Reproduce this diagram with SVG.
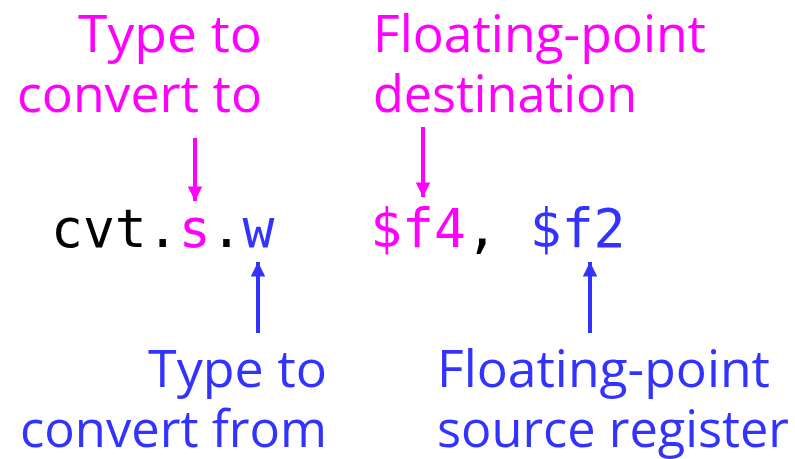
<svg xmlns="http://www.w3.org/2000/svg" width="795" height="459" viewBox="0 0 795 459">
  <style>
    .lbl { font-family: "Open Sans", "DejaVu Sans", sans-serif; font-size: 52px; }
    .code { font-family: "DejaVu Sans Mono", "Liberation Mono", monospace; font-size: 53px; }
    .mag { fill: #FF00FF; }
    .blu { fill: #3333FF; }
    .blk { fill: #000000; }
  </style>
  <defs>
    <marker id="ahM" viewBox="0 0 10 10" refX="10" refY="5" markerWidth="4" markerHeight="3.6" orient="auto" markerUnits="strokeWidth">
      <path d="M0,0 L10,5 L0,10 z" fill="#FF00FF"/>
    </marker>
    <marker id="ahB" viewBox="0 0 10 10" refX="10" refY="5" markerWidth="4" markerHeight="3.6" orient="auto" markerUnits="strokeWidth">
      <path d="M0,0 L10,5 L0,10 z" fill="#3333FF"/>
    </marker>
  </defs>
  <rect width="795" height="459" fill="#FFFFFF"/>

  <g id="instruction">
    <text class="code" x="51" y="247"><tspan class="blk">cvt.</tspan><tspan class="mag">s</tspan><tspan class="blk">.</tspan><tspan class="blu">w</tspan><tspan class="blk" xml:space="preserve">   </tspan><tspan class="mag">$f4</tspan><tspan class="blk">,</tspan><tspan class="blk" xml:space="preserve"> </tspan><tspan class="blu">$f2</tspan></text>
  </g>

  <g id="label-type-to">
    <text class="lbl mag" x="78" y="52" textLength="184" lengthAdjust="spacingAndGlyphs">Type to</text>
    <text class="lbl mag" x="17" y="112" textLength="245" lengthAdjust="spacingAndGlyphs">convert to</text>
  </g>
  <g id="label-fp-dest">
    <text class="lbl mag" x="373" y="52" textLength="333" lengthAdjust="spacingAndGlyphs">Floating-point</text>
    <text class="lbl mag" x="373" y="112" textLength="264" lengthAdjust="spacingAndGlyphs">destination</text>
  </g>
  <g id="label-type-from">
    <text class="lbl blu" x="148" y="387" textLength="179" lengthAdjust="spacingAndGlyphs">Type to</text>
    <text class="lbl blu" x="20" y="447" textLength="307" lengthAdjust="spacingAndGlyphs">convert from</text>
  </g>
  <g id="label-fp-src">
    <text class="lbl blu" x="437" y="387" textLength="333" lengthAdjust="spacingAndGlyphs">Floating-point</text>
    <text class="lbl blu" x="437" y="447" textLength="352" lengthAdjust="spacingAndGlyphs">source register</text>
  </g>

  <g id="connectors" stroke-width="4" fill="none">
    <line x1="195" y1="138" x2="195" y2="201" stroke="#FF00FF" marker-end="url(#ahM)"/>
    <line x1="423" y1="127" x2="423" y2="197" stroke="#FF00FF" marker-end="url(#ahM)"/>
    <line x1="258" y1="333" x2="258" y2="262" stroke="#3333FF" marker-end="url(#ahB)"/>
    <line x1="590" y1="333" x2="590" y2="262" stroke="#3333FF" marker-end="url(#ahB)"/>
  </g>
</svg>
